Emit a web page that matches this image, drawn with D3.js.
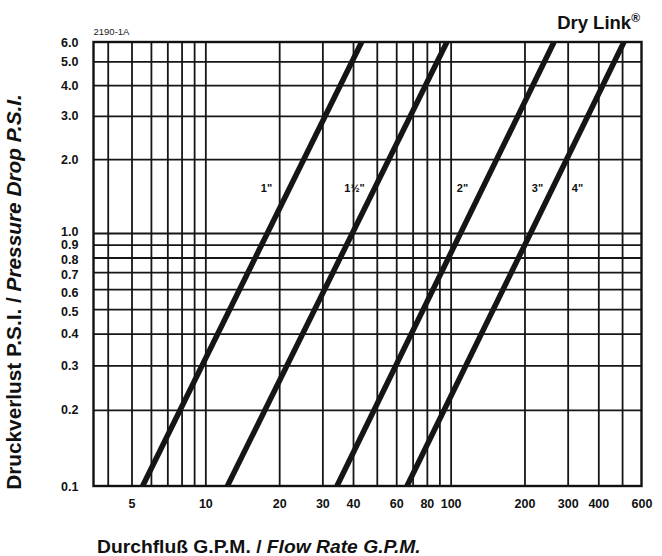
<!DOCTYPE html>
<html><head><meta charset="utf-8">
<script src="https://cdn.jsdelivr.net/npm/d3@7"></script>
<style>
body{margin:0;background:#fff}
svg{display:block}
text{font-family:"Liberation Sans",Arial,Helvetica,sans-serif}
</style>
</head><body>
<svg id="c" width="662" height="556"></svg>
<script>
// ---- data ----
const sizes = ['1"', '1½"', '2"', '3"-4"'];
const psiEnds = [0.1, 6.0];
const flowAtLowPsi = [5.55, 12.3, 34.4, 66.4];   // GPM at 0.1 PSI
const flowAtHighPsi = [43.4, 96.6, 264, 509];   // GPM at 6.0 PSI
const curveLabels = ['1"', '1½"', '2"', '3"', '4"'];
const curveLabelSeries = [0, 1, 2, 3, 3];
const xTickLabels = [5, 10, 20, 30, 40, 60, 80, 100, 200, 300, 400, 600];
const xGridValues = [4, 5, 6, 7, 8, 9, 10, 20, 30, 40, 50, 60, 70, 80, 90, 100, 200, 300, 400, 500];
const yTickLabels = [0.1, 0.2, 0.3, 0.4, 0.5, 0.6, 0.7, 0.8, 0.9, 1.0, 2.0, 3.0, 4.0, 5.0, 6.0];
const chartCode = "2190-1A";
const brand = "Dry Link";
const xTitleA = "Durchfluß G.P.M. / ", xTitleB = "Flow Rate G.P.M.";
const yTitleA = "Druckverlust P.S.I. / ", yTitleB = "Pressure Drop P.S.I.";

// ---- layout ----
const L = 93.5, R = 641.5, T = 42, B = 486;
const svg = d3.select("#c");
const x = d3.scaleLog().domain([3.5, 600]).range([L, R]);
// the printed log paper is slightly uneven; piecewise log matches it
const y = d3.scaleLog().domain([0.1, 1, 6]).range([B, 233, T]);

// grid via axes
const gx = svg.append("g").attr("transform", `translate(0,${B})`)
  .call(d3.axisBottom(x).tickValues(xGridValues).tickSize(-(B - T)).tickFormat(""));
gx.select(".domain").remove();
gx.selectAll("line").attr("stroke", "#161616").attr("stroke-width", 1.8);

const gy = svg.append("g").attr("transform", `translate(${L},0)`)
  .call(d3.axisLeft(y).tickValues(yTickLabels.filter(v => v > 0.1 && v < 6)).tickSize(-(R - L)).tickFormat(""));
gy.select(".domain").remove();
gy.selectAll("line").attr("stroke", "#161616").attr("stroke-width", 1.8);

// frame
svg.append("rect").attr("x", L).attr("y", T).attr("width", R - L).attr("height", B - T)
  .attr("fill", "none").attr("stroke", "#111").attr("stroke-width", 2.4);

// tick labels
const labelNudge = {"1.0": -2, "0.9": 0, "0.8": 1.5, "0.7": 2.5, "0.6": 3, "0.5": 2};
const fmtY = d3.format(".1f");
const ay = svg.append("g").attr("transform", `translate(${L},0)`)
  .call(d3.axisLeft(y).tickValues(yTickLabels).tickSize(0).tickPadding(15).tickFormat(fmtY));
ay.select(".domain").remove();
ay.selectAll("text").attr("font-size", 12.5).attr("font-weight", "bold").attr("fill", "#111")
  .attr("font-family", '"Liberation Sans",Arial,sans-serif')
  .attr("y", d => labelNudge[fmtY(d)] || 0);

const ax = svg.append("g").attr("transform", `translate(0,${B})`)
  .call(d3.axisBottom(x).tickValues(xTickLabels).tickSize(0).tickPadding(13).tickFormat(d3.format("d")));
ax.select(".domain").remove();
ax.selectAll("text").attr("font-size", 12.5).attr("font-weight", "bold").attr("fill", "#111")
  .attr("font-family", '"Liberation Sans",Arial,sans-serif');

// curves
const line = d3.line().x(d => x(d[0])).y(d => y(d[1]));
sizes.forEach((s, i) => {
  const pts = [[flowAtLowPsi[i], psiEnds[0]], [flowAtHighPsi[i], psiEnds[1]]];
  svg.append("path").attr("d", line(pts)).attr("fill", "none")
    .attr("stroke", "#151515").attr("stroke-width", 5.5);
});

// curve labels, placed relative to the drawn curve at a fixed pressure row
const labelPsi = 1.52;
const labelOffsets = [-23, -20, -20, -15, 25];
function pxAt(i, p) {
  const x0 = x(flowAtLowPsi[i]), x1 = x(flowAtHighPsi[i]);
  const y0 = y(psiEnds[0]), y1 = y(psiEnds[1]);
  return x0 + (x1 - x0) * (y(p) - y0) / (y1 - y0);
}
curveLabels.forEach((lab, j) => {
  const i = curveLabelSeries[j];
  svg.append("text").attr("x", pxAt(i, labelPsi) + labelOffsets[j]).attr("y", y(labelPsi))
    .attr("dy", "0.35em").attr("text-anchor", "middle")
    .attr("font-size", 11).attr("font-weight", "bold").attr("fill", "#111").text(lab);
});

// header texts
svg.append("text").attr("x", L).attr("y", 35).attr("font-size", 9.5).attr("fill", "#222").text(chartCode);
const br = svg.append("text").attr("x", 640).attr("y", 29).attr("text-anchor", "end")
  .attr("font-size", 18.5).attr("font-weight", "bold").attr("fill", "#111");
br.append("tspan").text(brand);
br.append("tspan").attr("font-size", 12).attr("dy", -7).text("®");

// axis titles
function fitTitle(sel, target) {
  const w = sel.node().getComputedTextLength();
  sel.attr("font-size", 15 * target / w);
}
const xt = svg.append("text").attr("x", 97).attr("y", 553).attr("font-size", 15)
  .attr("font-weight", "bold").attr("fill", "#111");
xt.append("tspan").text(xTitleA);
xt.append("tspan").attr("font-style", "italic").text(xTitleB);
fitTitle(xt, 324);

const yt = svg.append("text").attr("transform", "translate(21,292) rotate(-90)")
  .attr("text-anchor", "middle").attr("font-size", 15).attr("font-weight", "bold").attr("fill", "#111");
yt.append("tspan").text(yTitleA);
yt.append("tspan").attr("font-style", "italic").text(yTitleB);
fitTitle(yt, 396);
</script>
</body></html>
